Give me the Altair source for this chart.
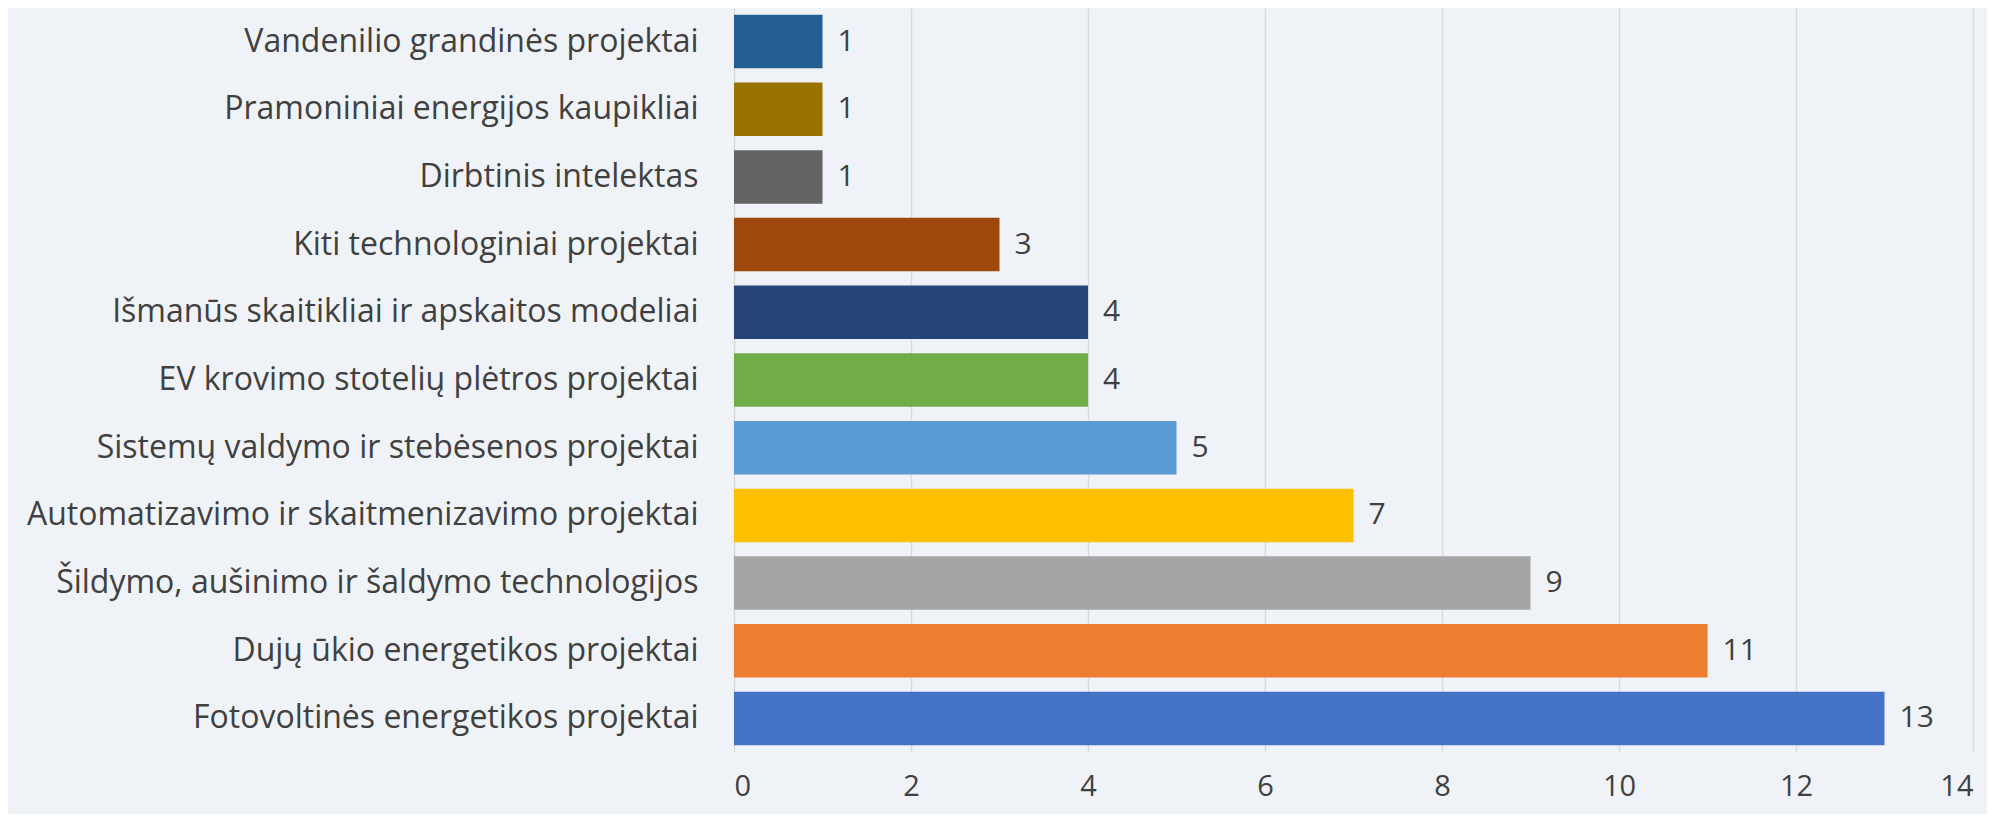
import altair as alt
import pandas as pd

categories = [
    "Vandenilio grandinės projektai",
    "Pramoniniai energijos kaupikliai",
    "Dirbtinis intelektas",
    "Kiti technologiniai projektai",
    "Išmanūs skaitikliai ir apskaitos modeliai",
    "EV krovimo stotelių plėtros projektai",
    "Sistemų valdymo ir stebėsenos projektai",
    "Automatizavimo ir skaitmenizavimo projektai",
    "Šildymo, aušinimo ir šaldymo technologijos",
    "Dujų ūkio energetikos projektai",
    "Fotovoltinės energetikos projektai",
]
values = [1, 1, 1, 3, 4, 4, 5, 7, 9, 11, 13]
colors = [
    "#255e91", "#997300", "#636363", "#9e480e", "#264478", "#70ad47",
    "#5b9bd5", "#ffc000", "#a5a5a5", "#ed7d31", "#4472c4",
]
x_ticks = [0, 2, 4, 6, 8, 10, 12, 14]

df = pd.DataFrame({"cat": categories, "val": values})

FONT = "Open Sans"
BG = "#eff3f7"

y_enc = alt.Y(
    "cat:N",
    sort=categories,
    scale=alt.Scale(paddingInner=0.21, paddingOuter=0.1),
    axis=alt.Axis(
        title=None, domain=False, ticks=False, tickSize=0, labelPadding=36,
        labelFontSize=32, labelColor="#404040", labelFont=FONT, labelLimit=800,
        grid=False,
    ),
)
x_enc = alt.X(
    "val:Q",
    scale=alt.Scale(domain=[0, 14], nice=False),
    axis=alt.Axis(
        title=None, values=x_ticks, format="d", domain=False, ticks=False, tickSize=0,
        labelPadding=20, labelFontSize=29, labelColor="#404040", labelFont=FONT,
        grid=True, gridColor="#d9d9d9", gridWidth=1.5,
    ),
)

bars = alt.Chart(df).mark_bar().encode(
    y=y_enc,
    x=x_enc,
    color=alt.Color("cat:N", scale=alt.Scale(domain=categories, range=colors), legend=None),
)
labels = alt.Chart(df).mark_text(
    align="left", baseline="middle", dx=15, fontSize=30, font=FONT, color="#404040"
).encode(
    y=alt.Y("cat:N", sort=categories),
    x=alt.X("val:Q"),
    text=alt.Text("val:Q"),
)

chart = alt.layer(bars, labels).properties(
    width=1239,
    height=744,
    background=BG,
    padding={"left": 726, "top": 0, "right": 14, "bottom": 62},
    autosize=alt.AutoSizeParams(type="none"),
).configure_view(stroke=None)

chart.save("out.html", embed_options={"renderer": "svg", "actions": False})
